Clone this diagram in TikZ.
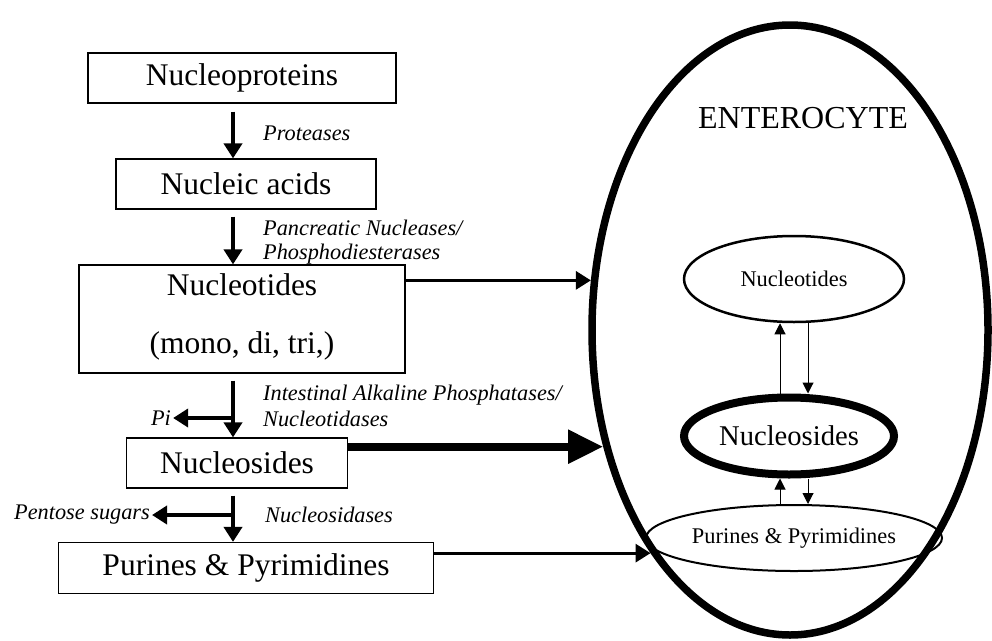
\documentclass[tikz,border=0pt]{standalone}
\usepackage{fontspec}
\setmainfont{Liberation Serif}
\usepackage{tikz}
\usetikzlibrary{arrows.meta,shapes.geometric}
\newcommand{\stagefont}{\fontsize{31.5}{58}\selectfont}
\newcommand{\enzymefont}{\fontsize{22.3}{24}\selectfont\itshape}
\newcommand{\poolfont}{\fontsize{22.4}{26}\selectfont}
\tikzset{
	stage/.style={draw, line width=1.2pt, font=\stagefont, inner sep=0pt, minimum height=50pt, align=center},
	enzyme/.style={font=\enzymefont, anchor=west, align=left, inner sep=0pt},
	product/.style={font=\enzymefont, inner sep=2pt},
	flow/.style={-{Triangle[length=15pt,width=18pt]}, line width=4pt},
	uptake/.style={-{Triangle[length=15pt,width=18pt]}, line width=3pt},
	mainuptake/.style={-{Triangle[length=35pt,width=32pt]}, line width=8pt},
	pool/.style={draw, ellipse, inner sep=0pt, font=\poolfont},
	exchange/.style={-{Triangle[length=11pt,width=11pt]}, line width=1pt}
}

\begin{document}
\begin{tikzpicture}[x=1pt, y=-1pt]
	\useasboundingbox (0,0) rectangle (992,640);

	% Digestion in the lumen
	\node[stage, minimum width=308pt] (nprot) at (242,78) {Nucleoproteins};
	\node[stage, minimum width=260pt] (nacid) at (246,184) {Nucleic acids};
	\node[stage, minimum width=326pt, minimum height=108pt, text depth=10pt] (ntides) at (242,319) {Nucleotides\\(mono, di, tri,)};
	\node[stage, minimum width=221pt] (nsides) at (237,463) {Nucleosides};
	\node[stage, minimum width=375pt, minimum height=51pt] (purs) at (246,568) {Purines \& Pyrimidines};

	\coordinate (spine) at (233,0);

	\node[enzyme] (protease) at (263,133) {Proteases};
	\node[enzyme] (nuclease) at (263,242) {Pancreatic Nucleases/\\Phosphodiesterases};
	\node[enzyme] (phosphatase) at (263,406) {Intestinal Alkaline Phosphatases/\\[2pt]Nucleotidases};
	\node[enzyme] (nucleosidase) at (265,515) {Nucleosidases};

	\node[product] (pi) at (161,418) {Pi};
	\node[product] (sugars) at (82,515) {Pentose sugars};

	\draw[flow, shorten <=8pt] (spine |- nprot.south) -- (spine |- nacid.north);
	\draw[flow, shorten <=7pt] (spine |- nacid.south) -- (spine |- ntides.north);
	\draw[flow, shorten <=7pt] (spine |- ntides.south) -- (spine |- nsides.north);
	\draw[flow] (spine |- pi) -- (pi.east);
	\draw[flow, shorten <=7pt] (spine |- nsides.south) -- (spine |- purs.north);
	\draw[flow] (spine |- sugars) -- (sugars.east);

	% Enterocyte and its pools
	\node[draw, ellipse, line width=7.5pt, minimum width=396pt, minimum height=610pt, inner sep=0pt] (cell) at (790,330) {};
	\node[font=\fontsize{32}{38}\selectfont] (celltitle) at (803,118) {ENTEROCYTE};

	\node[pool, line width=2.5pt, minimum width=220pt, minimum height=86pt] (celltides) at (794,279) {Nucleotides};
	\node[pool, line width=8pt, minimum width=210pt, minimum height=77pt, font=\fontsize{28.6}{34}\selectfont] (cellsides) at (789,436) {Nucleosides};
	\node[pool, line width=2pt, minimum width=296pt, minimum height=66pt] (cellbases) at (794,538) {Purines \& Pyrimidines};

	\coordinate (upx) at (780,0);
	\coordinate (downx) at (808,0);
	\draw[exchange] (upx |- cellsides.north) -- (upx |- celltides.south);
	\draw[exchange] (downx |- celltides.south) -- (downx |- cellsides.north);
	\draw[exchange] (upx |- cellbases.north) -- (upx |- cellsides.south);
	\draw[exchange] (downx |- cellsides.south) -- (downx |- cellbases.north);

	\draw[uptake] (cell.166.5 -| ntides.east) -- (cell.166.5);
	\draw[mainuptake] (cell.212.6 -| nsides.east) -- (cell.212.6);
	\draw[uptake] (cell.238.5 -| purs.east) -- (cell.238.5);
\end{tikzpicture}
\end{document}
